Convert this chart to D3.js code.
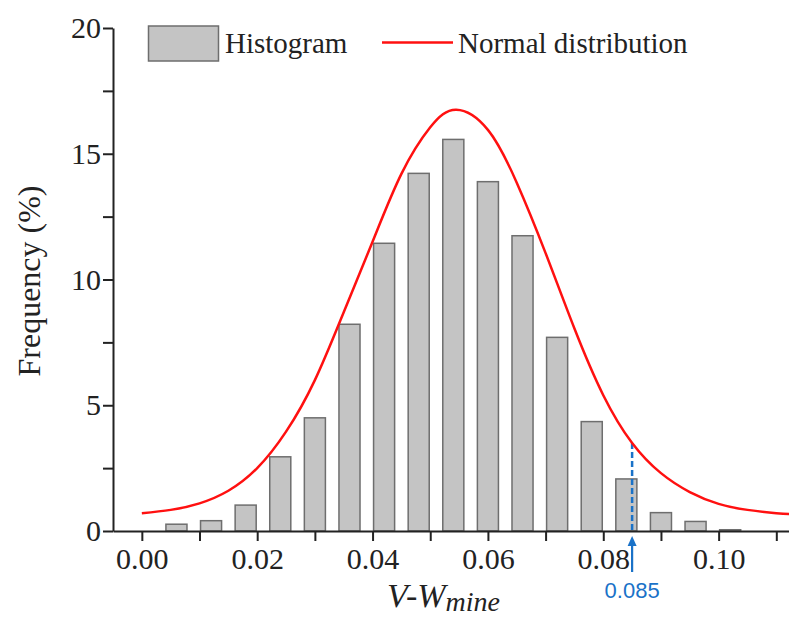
<!DOCTYPE html>
<html>
<head>
<meta charset="utf-8">
<script src="https://cdn.jsdelivr.net/npm/d3@7"></script>
<style>
  body { margin: 0; background: #fff; }
  svg { display: block; }
  .axis text { font-family: "Liberation Serif", serif; font-size: 30px; fill: #222; }
  .axis path, .axis line { stroke: #222; stroke-width: 2; }
</style>
</head>
<body>
<svg id="chart" width="789" height="618"></svg>
<script>
// histogram bins (bin centres) and frequency (%)
const binCenters = [0.006, 0.012, 0.018, 0.024, 0.030, 0.036, 0.042, 0.048, 0.054,
  0.060, 0.066, 0.072, 0.078, 0.084, 0.090, 0.096, 0.102];
const frequencies = [0.27, 0.41, 1.03, 2.95, 4.5, 8.22, 11.44, 14.22, 15.57,
  13.89, 11.74, 7.70, 4.35, 2.07, 0.73, 0.38, 0.05];

// fitted normal curve
const curveX = [0, 0.005, 0.010, 0.015, 0.020, 0.025, 0.030, 0.035, 0.040, 0.045, 0.050,
  0.0545, 0.060, 0.065, 0.070, 0.075, 0.080, 0.085, 0.090, 0.095, 0.100, 0.105, 0.110, 0.1122];
const curveY = [0.71, 0.84, 1.10, 1.60, 2.50, 3.95, 6.0, 8.7, 11.5, 14.2, 16.05,
  16.75, 15.95, 13.85, 11.05, 8.05, 5.4, 3.5, 2.3, 1.55, 1.08, 0.84, 0.71, 0.68];

const xMajorTicks = [0, 0.02, 0.04, 0.06, 0.08, 0.10];
const xMinorTicks = [0.01, 0.03, 0.05, 0.07, 0.09, 0.11];
const yMajorTicks = [0, 5, 10, 15, 20];
const yMinorTicks = [2.5, 7.5, 12.5, 17.5];

const markerX = 0.085;
const markerY = 3.5;

drawChart();

function drawChart() {
  const margin = { top: 28, right: 0, bottom: 87, left: 113 };
  const width = 789 - margin.left - margin.right;
  const height = 618 - margin.top - margin.bottom;

  const svg = d3.select("#chart")
    .append("g")
    .attr("transform", `translate(${margin.left}, ${margin.top})`);

  const x = d3.scaleLinear().domain([-0.005, 0.1122]).range([0, width]);
  const y = d3.scaleLinear().domain([0, 20]).range([height, 0]);

  // bars
  const barW = x(0.00365) - x(0);
  svg.selectAll(".bar")
    .data(binCenters.map((c, i) => ({ c: c, v: frequencies[i] })))
    .enter()
    .append("rect")
    .attr("class", "bar")
    .attr("x", (d) => x(d.c) - barW / 2)
    .attr("y", (d) => y(d.v))
    .attr("width", barW)
    .attr("height", (d) => height - y(d.v))
    .style("fill", "#c4c4c4")
    .style("stroke", "#6e6e6e")
    .style("stroke-width", 1.5);

  // blue marker at 0.085 (drawn before curve so the curve sits on top)
  svg.append("line")
    .attr("x1", x(markerX)).attr("x2", x(markerX))
    .attr("y1", y(markerY)).attr("y2", y(0))
    .style("stroke", "#1a72c8")
    .style("stroke-width", 2.5)
    .style("stroke-dasharray", "6,3");

  // normal distribution
  const line = d3.line()
    .x((d) => x(d[0]))
    .y((d) => y(d[1]))
    .curve(d3.curveNatural);

  svg.append("path")
    .datum(curveX.map((cx, i) => [cx, curveY[i]]))
    .attr("d", line)
    .style("fill", "none")
    .style("stroke", "#ff1010")
    .style("stroke-width", 2.5);

  // axes
  svg.append("g")
    .attr("class", "axis")
    .attr("transform", `translate(0, ${height})`)
    .call(d3.axisBottom(x).tickValues(xMajorTicks).tickSize(10).tickSizeOuter(0)
      .tickPadding(7).tickFormat(d3.format(".2f")));

  svg.append("g")
    .attr("class", "axis")
    .attr("transform", `translate(0, ${height})`)
    .call(d3.axisBottom(x).tickValues(xMinorTicks).tickSize(10).tickFormat(""))
    .call((g) => g.select(".domain").remove());

  svg.append("g")
    .attr("class", "axis")
    .call(d3.axisLeft(y).tickValues(yMajorTicks).tickSize(10).tickSizeOuter(0).tickPadding(2));

  svg.append("g")
    .attr("class", "axis")
    .call(d3.axisLeft(y).tickValues(yMinorTicks).tickSize(10).tickFormat(""))
    .call((g) => g.select(".domain").remove());

  // arrow under the axis
  const ax = x(markerX);
  const tip = height + 5;
  svg.append("line")
    .attr("x1", ax).attr("x2", ax)
    .attr("y1", tip + 8).attr("y2", tip + 36)
    .style("stroke", "#1a72c8")
    .style("stroke-width", 2.2);
  svg.append("path")
    .attr("d", `M${ax},${tip} L${ax - 4.5},${tip + 10} L${ax + 4.5},${tip + 10} Z`)
    .style("fill", "#1a72c8");

  svg.append("text")
    .text("0.085")
    .attr("x", ax)
    .attr("y", height + 67)
    .attr("text-anchor", "middle")
    .style("font-family", "'Liberation Sans', sans-serif")
    .style("font-size", "22px")
    .style("fill", "#1a72c8");

  // axis titles
  const xt = svg.append("text")
    .attr("x", 387 - margin.left)
    .attr("y", height + 76)
    .style("font-family", "'Liberation Serif', serif")
    .style("font-style", "italic")
    .style("font-size", "34px")
    .style("fill", "#222");
  xt.append("tspan").text("V-W");
  xt.append("tspan").text("mine").attr("dy", 4).style("font-size", "28px");

  svg.append("text")
    .text("Frequency (%)")
    .attr("transform", `translate(${40 - margin.left}, ${281 - margin.top}) rotate(-90)`)
    .attr("text-anchor", "middle")
    .style("font-family", "'Liberation Serif', serif")
    .style("font-size", "32px")
    .style("fill", "#222");

  // legend
  const legend = svg.append("g").attr("transform", `translate(${-margin.left}, ${-margin.top})`);
  legend.append("rect")
    .attr("x", 148.5).attr("y", 26)
    .attr("width", 70).attr("height", 35)
    .style("fill", "#c4c4c4")
    .style("stroke", "#6e6e6e")
    .style("stroke-width", 1.5);
  legend.append("text")
    .text("Histogram")
    .attr("x", 225).attr("y", 53)
    .style("font-family", "'Liberation Serif', serif")
    .style("font-size", "29px")
    .style("fill", "#222");
  legend.append("line")
    .attr("x1", 382).attr("x2", 453)
    .attr("y1", 42.5).attr("y2", 42.5)
    .style("stroke", "#ff1010")
    .style("stroke-width", 2.5);
  legend.append("text")
    .text("Normal distribution")
    .attr("x", 458).attr("y", 53)
    .style("font-family", "'Liberation Serif', serif")
    .style("font-size", "29px")
    .style("fill", "#222");
}
</script>
</body>
</html>
